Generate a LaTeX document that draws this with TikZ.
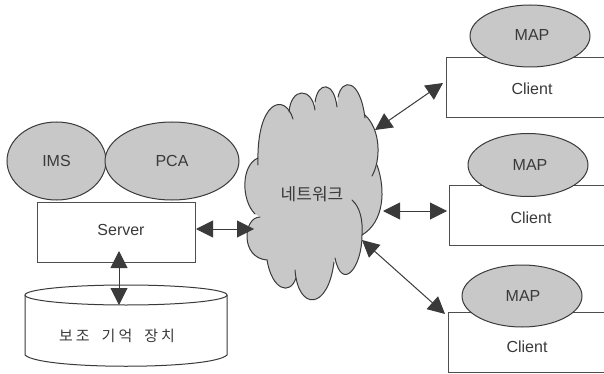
\documentclass[tikz,border=0pt]{standalone}
\usepackage{fontspec}
\setmainfont{Liberation Sans}
\newfontfamily\krfont{Noto Sans CJK KR}
\usetikzlibrary{arrows.meta,shapes.geometric}
\definecolor{ink}{HTML}{3A3A3A}
\definecolor{blob}{HTML}{C8C8C8}
\tikzset{
  every node/.style={text=ink,font=\fontsize{16}{18}\selectfont},
  soft/.style={draw=ink,line width=1pt,fill=blob,ellipse,inner sep=0pt},
  box/.style={draw=ink!90,line width=1pt,fill=white,rectangle,inner sep=0pt},
  link/.style={draw=ink,line width=1pt,{Triangle[length=17pt,width=17pt]}-{Triangle[length=17pt,width=17pt]}},
  cloudedge/.style={draw=ink,line width=1pt,line cap=round}
}
\begin{document}
\begin{tikzpicture}[x=1pt,y=-1pt]
\clip (0,0) rectangle (604,374);
\fill[white] (0,0) rectangle (604,374);
% cylinder
\path[draw=ink,line width=1pt,fill=white] (25,295) -- (25,355) .. controls (40,370) and (212,370) .. (227,355) -- (227,295);
\path[draw=ink,line width=1pt,fill=white] (126,295) ellipse [x radius=101,y radius=10];
\node[font=\krfont\fontsize{15}{17}\selectfont] (store) at (117,336) {보\hspace{3pt}조\hspace{12pt}기\hspace{3pt}억\hspace{12pt}장\hspace{3pt}치};
% server
\node[box,minimum width=158pt,minimum height=60pt] (server) at (116,232) {};
\node (servert) at (121,230) {Server};
\node[soft,minimum width=99pt,minimum height=78pt] (ims) at (56.5,161) {};
\node[soft,minimum width=134pt,minimum height=78pt] (pca) at (172,161) {};
\node at (ims.center) {IMS};
\node at (pca.center) {PCA};
% clients
\node[box,minimum width=180pt,minimum height=60pt,anchor=north west] (c1) at (446,57) {};
\node[box,minimum width=180pt,minimum height=60pt,anchor=north west] (c2) at (449,185) {};
\node[box,minimum width=180pt,minimum height=60pt,anchor=north west] (c3) at (448,312) {};
\node (t1) at (532,89) {Client};
\node (t2) at (531,218) {Client};
\node (t3) at (527,347) {Client};
\node[soft,minimum width=120pt,minimum height=62pt] (m1) at (530,36) {};
\node[soft,minimum width=120pt,minimum height=63pt] (m2) at (528,165) {};
\node[soft,minimum width=120pt,minimum height=62pt] (m3) at (522,296) {};
\node at (532,35) {MAP};
\node at (530,165) {MAP};
\node at (523,296) {MAP};
% cloud
\fill[blob] (258,165) .. controls (256,100) and (285,92) .. (293,119)
 -- (289,112) .. controls (291,87) and (312,87) .. (315,110)
 -- (315,102) .. controls (318,81) and (334,81) .. (337,107)
 -- (338,97) .. controls (342,78) and (360,78) .. (365,118)
 -- (365,115) .. controls (381,130) and (381,160) .. (372,176)
 -- (377,165) .. controls (386,190) and (384,222) .. (362,235)
 .. controls (362,268) and (342,292) .. (335,258)
 -- (334,262) .. controls (328,311) and (298,311) .. (295,270)
 -- (296,278) .. controls (290,296) and (272,290) .. (267,260)
 .. controls (240,258) and (243,217) .. (260,217)
 -- (255,214) .. controls (241,200) and (241,165) .. (258,158) -- cycle;
\draw[cloudedge] (258,165) .. controls (256,100) and (285,92) .. (293,119);
\draw[cloudedge] (289,112) .. controls (291,87) and (312,87) .. (315,110);
\draw[cloudedge] (315,102) .. controls (318,81) and (334,81) .. (337,107);
\draw[cloudedge] (338,97) .. controls (342,78) and (360,78) .. (365,118);
\draw[cloudedge] (365,115) .. controls (381,130) and (381,160) .. (372,176);
\draw[cloudedge] (377,165) .. controls (386,190) and (384,222) .. (362,235);
\draw[cloudedge] (352,200) .. controls (360,207) and (363,220) .. (362,235) .. controls (362,268) and (342,292) .. (335,258);
\draw[cloudedge] (334,262) .. controls (328,311) and (298,311) .. (295,270);
\draw[cloudedge] (296,278) .. controls (290,296) and (272,290) .. (267,260);
\draw[cloudedge] (267,260) .. controls (240,258) and (243,217) .. (260,217);
\draw[cloudedge] (255,214) .. controls (241,200) and (241,165) .. (258,158);
\node[font=\krfont\fontsize{17}{19}\selectfont] (net) at (312,194) {네트워크};
% connectors
\coordinate (netW) at (254,229);
\coordinate (netN) at (375,130);
\coordinate (netE) at (383,211);
\coordinate (netS) at (362,240);
\coordinate (c1in) at (443,83);
\coordinate (c2in) at (447,211);
\coordinate (c3in) at (445,314);
\coordinate (srvD) at (119,251);
\coordinate (stoU) at (119,305);
\coordinate (srvE) at (196,229);
\draw[link] (srvE) -- (netW);
\draw[link] (srvD) -- (stoU);
\draw[link] (netN) -- (c1in);
\draw[link] (netE) -- (c2in);
\draw[link] (netS) -- (c3in);
\end{tikzpicture}
\end{document}
